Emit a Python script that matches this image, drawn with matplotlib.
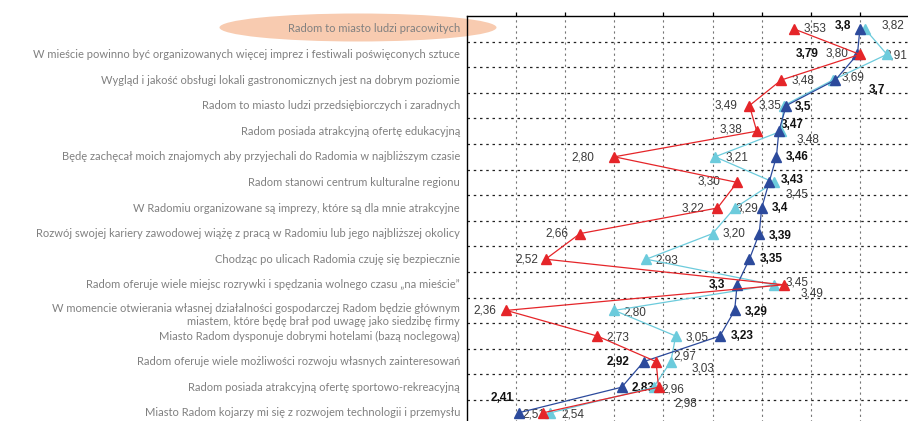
import matplotlib
matplotlib.use("Agg")
import matplotlib.pyplot as plt
from matplotlib.patches import Ellipse
from matplotlib.transforms import blended_transform_factory

# statements, top to bottom
CATEGORIES = [
    "Radom to miasto ludzi pracowitych",
    "W mieście powinno być organizowanych więcej imprez i festiwali poświęconych sztuce",
    "Wygląd i jakość obsługi lokali gastronomicznych jest na dobrym poziomie",
    "Radom to miasto ludzi przedsiębiorczych i zaradnych",
    "Radom posiada atrakcyjną ofertę edukacyjną",
    "Będę zachęcał moich znajomych aby przyjechali do Radomia w najbliższym czasie",
    "Radom stanowi centrum kulturalne regionu",
    "W Radomiu organizowane są imprezy, które są dla mnie atrakcyjne",
    "Rozwój swojej kariery zawodowej wiążę z pracą w Radomiu lub jego najbliższej okolicy",
    "Chodząc po ulicach Radomia czuję się bezpiecznie",
    "Radom oferuje wiele miejsc rozrywki i spędzania wolnego czasu „na mieście”",
    "W momencie otwierania własnej działalności gospodarczej Radom będzie głównym\n"
    "miastem, które będę brał pod uwagę jako siedzibę firmy",
    "Miasto Radom dysponuje dobrymi hotelami (bazą noclegową)",
    "Radom oferuje wiele możliwości rozwoju własnych zainteresowań",
    "Radom posiada atrakcyjną ofertę sportowo-rekreacyjną",
    "Miasto Radom kojarzy mi się z rozwojem technologii i przemysłu",
]

red = [3.53, 3.80, 3.48, 3.35, 3.38, 2.80, 3.30, 3.22, 2.66, 2.52, 3.49, 2.36, 2.73, 2.97, 2.98, 2.51]
cyan = [3.82, 3.91, 3.69, 3.49, 3.48, 3.21, 3.45, 3.29, 3.20, 2.93, 3.45, 2.80, 3.05, 3.03, 2.96, 2.54]
dark = [3.8, 3.79, 3.7, 3.5, 3.47, 3.46, 3.43, 3.4, 3.39, 3.35, 3.3, 3.29, 3.23, 2.92, 2.83, 2.41]

# data labels as printed in the source chart
red_labels = ["3,53", "3,80", "3,48", "3,49", "3,38", "2,80", "3,30", "3,22",
              "2,66", "2,52", "3,45", "2,36", "2,73", "2,97", "2,98", "2,51"]
cyan_labels = ["3,82", "3,91", "3,69", "3,35", "3,48", "3,21", "3,45", "3,29",
               "3,20", "2,93", "3,49", "2,80", "3,05", "3,03", "2,96", "2,54"]
dark_labels = ["3,8", "3,79", "3,7", "3,5", "3,47", "3,46", "3,43", "3,4",
               "3,39", "3,35", "3,3", "3,29", "3,23", "2,92", "2,83", "2,41"]

TICKS = [2.4, 2.6, 2.8, 3.0, 3.2, 3.4, 3.6, 3.8]

# label offsets in pixels (dx, dy) from each marker
red_off = [(21, 0), (-23, 1), (22, 0), (-23, 0), (-26, 2), (-31, -1), (-28, 1), (-25, 0),
           (-23, 0), (-19, 0), (13, 2), (-21, 0), (21, -1), (29, 5), (27, -16), (-9, -2)]
cyan_off = [(28, 3), (9, -1), (20, 3), (-14, 0), (27, -8), (22, -1), (23, -12), (12, 0),
            (21, 0), (21, -1), (38, -9), (21, -2), (21, -1), (32, -7), (19, -2), (22, -2)]
dark_off = [(-17, 3), (-50, 0), (42, -10), (17, -1), (13, 6), (21, 0), (23, 2), (18, 0),
            (21, -2), (22, 0), (-20, 0), (22, -2), (22, 0), (-26, 0), (21, -1), (-16, 15)]

RED, CYAN, DARK = "#e52529", "#6ccbdc", "#2c4a9c"

fig = plt.figure(figsize=(9.08, 4.21), dpi=100)
ax = fig.add_axes([467 / 908, 1 - 425.6 / 421, 442 / 908, 409.6 / 421])
ax.set_facecolor("none")

rows = list(range(len(CATEGORIES)))
ax.set_xlim(2.2, 4.0)
ax.set_ylim(len(CATEGORIES) - 0.5, -0.5)

# grid
for t in TICKS:
    ax.axvline(t, color="#777777", lw=0.8, ls=(0, (2, 3)), zorder=0)
for k in range(1, len(CATEGORIES)):
    ax.axhline(k - 0.5, color="#222222", lw=0.9, ls=(0, (2, 3)), zorder=0)

for vals, col, labels, offs, bold in [
    (cyan, CYAN, cyan_labels, cyan_off, False),
    (dark, DARK, dark_labels, dark_off, True),
    (red, RED, red_labels, red_off, False),
]:
    ax.plot(vals, rows, color=col, lw=0.9, marker="^", ms=7.5, mec=col, mfc=col, zorder=3)
    for v, r, lab, (dx, dy) in zip(vals, rows, labels, offs):
        ax.annotate(lab, (v, r), xytext=(dx, dy), textcoords="offset pixels",
                    ha="center", va="center", fontsize=8.5,
                    family="Liberation Sans",
                    fontweight="bold" if bold else "normal",
                    color="#111111" if bold else "#3a3a3a", zorder=2)

ax.xaxis.tick_top()
ax.set_xticks(TICKS)
ax.set_xticklabels([])
ax.tick_params(axis="x", direction="out", length=3, width=0.9, color="black")
ax.set_yticks([])
for s in ["right", "bottom"]:
    ax.spines[s].set_visible(False)
ax.spines["top"].set_linewidth(1.0)
ax.spines["left"].set_linewidth(1.0)

# category texts at the left
trans = blended_transform_factory(fig.transFigure, ax.transData)
for r, cat in zip(rows, CATEGORIES):
    if "\n" in cat:
        ax.text(460 / 908, r - 0.27, cat, transform=trans, ha="right", va="top",
                fontsize=8.0, family="Lato", color="#808080", linespacing=1.2,
                multialignment="right")
    else:
        ax.text(460 / 908, r, cat, transform=trans, ha="right", va="center",
                fontsize=8.0, family="Lato", color="#808080")

# highlight behind the first statement
fig.patches.append(Ellipse((358 / 908, 1 - 27.5 / 421), 277 / 908, 28 / 421,
                           transform=fig.transFigure, facecolor="#f8cbb0",
                           edgecolor="none", zorder=-1))

fig.savefig("out.png", dpi=100)
